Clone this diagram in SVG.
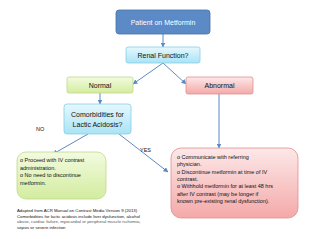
<svg xmlns="http://www.w3.org/2000/svg" width="320" height="239" viewBox="0 0 320 239">
<defs>
<linearGradient id="gc" x1="0" y1="0" x2="0" y2="1"><stop offset="0" stop-color="#e6f8fd"/><stop offset="1" stop-color="#a9e3f6"/></linearGradient>
<linearGradient id="gg" x1="0" y1="0" x2="0" y2="1"><stop offset="0" stop-color="#f3fbe0"/><stop offset="1" stop-color="#d3ec9f"/></linearGradient>
<linearGradient id="gr" x1="0" y1="0" x2="0" y2="1"><stop offset="0" stop-color="#fde8e8"/><stop offset="1" stop-color="#f4a9a9"/></linearGradient>
<marker id="ah" viewBox="0 0 10 10" refX="9" refY="5" markerWidth="5" markerHeight="5" orient="auto"><path d="M0,0 L10,5 L0,10 z" fill="#5b8ac6"/></marker>
<style>
text{font-family:"Liberation Sans",Arial,sans-serif;fill:#111}
.c{fill:url(#gc);stroke:#86cfe8;stroke-width:0.8}
.g{fill:url(#gg);stroke:#bcd98a;stroke-width:0.8}
.r{fill:url(#gr);stroke:#de8f8f;stroke-width:0.8}
.ln{stroke:#5b8ac6;stroke-width:1;fill:none;marker-end:url(#ah)}
.t{font-size:7px;text-anchor:middle}
.b{font-size:5.5px}
.f{font-size:4.3px}
</style>
</defs>
<rect width="320" height="239" fill="#ffffff"/>
<g id="connectors">
<line class="ln" x1="163" y1="34" x2="163" y2="47"/>
<line class="ln" x1="163" y1="63" x2="133" y2="84"/>
<line class="ln" x1="163" y1="63" x2="186" y2="84"/>
<line class="ln" x1="100" y1="93" x2="100" y2="104"/>
<line class="ln" x1="219" y1="94" x2="219" y2="148"/>
<line class="ln" x1="88" y1="134" x2="53" y2="154"/>
<line class="ln" x1="119" y1="134" x2="168" y2="172"/>
<text x="36" y="131" class="b">NO</text>
<text x="140" y="152" class="b">YES</text>
</g>
<g id="patient">
<rect x="116" y="10" width="94" height="24" rx="3" fill="#5b8ac6" stroke="#4672a8" stroke-width="0.8"/>
<text x="163" y="24.5" class="t" style="fill:#ffffff">Patient on Metformin</text>
</g>
<g id="renal">
<rect x="126" y="47" width="74" height="16" rx="2" class="c"/>
<text x="163" y="57.5" class="t">Renal Function?</text>
</g>
<g id="normal">
<rect x="67" y="77" width="66" height="16" rx="2" class="g"/>
<text x="100" y="87.5" class="t">Normal</text>
</g>
<g id="abnormal">
<rect x="186" y="77" width="67" height="17" rx="2" class="r"/>
<text x="219.5" y="88" class="t">Abnormal</text>
</g>
<g id="comorb">
<rect x="64" y="104" width="67" height="30" rx="3" class="c"/>
<text x="97.5" y="116.5" class="t">Comorbidities for</text>
<text x="97.5" y="126.5" class="t">Lactic Acidosis?</text>
</g>
<g id="proceed">
<rect x="17" y="152" width="89" height="47" rx="9" class="g"/>
<text x="20" y="162" class="b">o Proceed with IV contrast</text>
<text x="20" y="169.5" class="b">administration.</text>
<text x="20" y="177" class="b">o No need to discontinue</text>
<text x="20" y="184.5" class="b">metformin.</text>
</g>
<g id="communicate">
<rect x="171" y="148" width="127" height="70" rx="10" class="r"/>
<text x="177" y="159" class="b">o Communicate with referring</text>
<text x="177" y="166.3" class="b">physician.</text>
<text x="177" y="173.6" class="b">o Discontinue metformin at time of IV</text>
<text x="177" y="180.9" class="b">contrast.</text>
<text x="177" y="188.2" class="b">o Withhold metformin for at least 48 hrs</text>
<text x="177" y="195.5" class="b">after IV contrast (may be longer if</text>
<text x="177" y="202.8" class="b">known pre-existing renal dysfunction).</text>
</g>
<g id="footnote">
<text x="17" y="212" class="f">Adapted from ACR Manual on Contrast Media Version 9 (2013)</text>
<text x="17" y="217.5" class="f">Comorbidities for lactic acidosis include liver dysfunction, alcohol</text>
<text x="17" y="223" class="f" style="fill:#555">abuse, cardiac failure, myocardial or peripheral muscle ischemia,</text>
<text x="17" y="228.5" class="f">sepsis or severe infection</text>
</g>
</svg>
